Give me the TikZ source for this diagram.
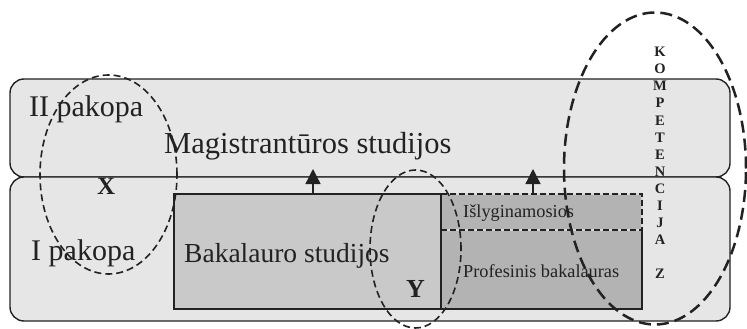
\documentclass[tikz,border=0pt]{standalone}
\usepackage{fontspec}
\setmainfont{Liberation Serif}
\usetikzlibrary{shapes.geometric,arrows.meta}
\definecolor{lvlfill}{HTML}{E6E6E6}
\definecolor{bakfill}{HTML}{C9C9C9}
\definecolor{proffill}{HTML}{B3B3B3}
\definecolor{ink}{HTML}{222222}
\begin{document}
\begin{tikzpicture}[x=1pt,y=-1pt,
  level/.style={draw=ink,line width=1.4pt,fill=lvlfill,rounded corners=14pt,inner sep=0pt,outer sep=0pt,anchor=north west,minimum width=720pt},
  boxx/.style={draw=ink,line width=1.8pt,inner sep=0pt,outer sep=0pt,anchor=north west},
  txt/.style={inner sep=0pt,anchor=base west,text=ink},
  ring/.style={ellipse,draw=ink,line width=1.6pt,inner sep=0pt,dash pattern=on 7pt off 4pt},
  bigring/.style={ellipse,draw=ink,line width=2.5pt,inner sep=0pt,dash pattern=on 12pt off 6pt},
  up/.style={draw=ink,line width=1.3pt,-{Triangle[width=15pt,length=15pt]}}]
\useasboundingbox (0,0) rectangle (747,329);
\fill[white] (0,0) rectangle (747,329);
% levels
\node[level,minimum height=98pt] (lvl2) at (10,79) {};
\node[level,minimum height=144pt] (lvl1) at (10,177) {};
% boxes
\node[boxx,fill=bakfill,minimum width=267pt,minimum height=115pt] (bak) at (174,194) {};
\node[boxx,fill=proffill,minimum width=201pt,minimum height=79pt] (prof) at (441,230) {};
\node[boxx,fill=proffill,draw=none,minimum width=201pt,minimum height=36pt] (isl) at (441,194) {};
\draw[white!85!black,line width=1.3pt] (isl.south west) -- (isl.north west) -- (isl.north east) -- (isl.south east) -- (isl.south west);
\draw[ink,line width=1.3pt,dash pattern=on 6pt off 3pt] (isl.south west) -- (isl.north west) -- (isl.north east) -- (isl.south east) -- (isl.south west);
\draw[ink,line width=1.8pt] (bak.north east) -- (bak.south east);
% arrows
\coordinate (t1) at (313,169);
\coordinate (t2) at (533,169);
\draw[up] (bak.north -| t1) -- (t1);
\draw[up] (isl.north -| t2) -- (t2);
% texts
\node[txt,font=\fontsize{30}{36}\selectfont] (l2) at (29,116) {II pakopa};
\node[txt,font=\fontsize{30}{36}\selectfont] (l1) at (31,260) {I pakopa};
\node[txt,font=\fontsize{30.5}{36}\selectfont] (mag) at (164,153) {Magistrantūros studijos};
\node[txt,font=\fontsize{27.5}{33}\selectfont] (bakt) at (184,262) {Bakalauro studijos};
\node[txt,font=\fontsize{18.3}{22}\selectfont] (islt) at (463,217) {Išlyginamosios};
\node[txt,font=\fontsize{18.3}{22}\selectfont] (proft) at (463,277) {Profesinis bakalauras};
\node[txt,font=\bfseries\fontsize{25}{30}\selectfont] (xl) at (97,194) {X};
\node[txt,font=\bfseries\fontsize{26}{30}\selectfont] (yl) at (406,297) {Y};
\node[inner sep=0pt,anchor=north,align=center,text=ink,font=\bfseries\fontsize{14.5}{17.1}\selectfont] (komp) at (660,47) {K\\O\\M\\P\\E\\T\\E\\N\\C\\I\\J\\A\\\mbox{}\\Z};
% ellipses
\node[ring,minimum width=137pt,minimum height=199pt] (ex) at (108.5,174.5) {};
\node[ring,minimum width=91pt,minimum height=158pt] (ey) at (415.5,249) {};
\node[bigring,minimum width=182pt,minimum height=312pt] (ez) at (655,168.5) {};
\end{tikzpicture}
\end{document}
